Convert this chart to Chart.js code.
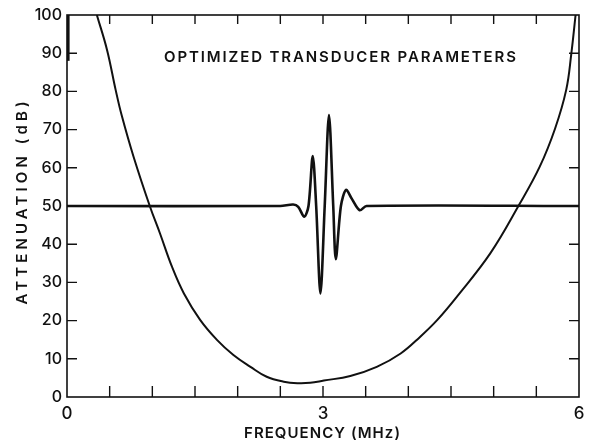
<!DOCTYPE html>
<html>
<head>
<meta charset="utf-8">
<script src="https://cdn.jsdelivr.net/npm/chart.js@4.4.0/dist/chart.umd.min.js"></script>
<style>
  body { margin: 0; background: #fff; }
  #wrap { width: 593px; height: 442px; }
</style>
</head>
<body>
<div id="wrap"><canvas id="chart1"></canvas></div>
<script>
// attenuation curve (MHz, dB)
const curveFreq = [0.35, 0.47, 0.57, 0.64, 0.78, 0.97, 1.09, 1.23, 1.37, 1.56, 1.76, 1.95, 2.15, 2.34, 2.54, 2.70, 2.85, 3.01, 3.32, 3.63, 3.91, 4.14, 4.34, 4.57, 4.96, 5.29, 5.54, 5.72, 5.85, 5.91, 5.96];
const curveDb   = [100, 90.8, 80.4, 73.8, 62.9, 50, 42.8, 34.1, 27.1, 20.2, 14.9, 11.0, 7.9, 5.3, 4.0, 3.6, 3.7, 4.3, 5.5, 7.9, 11.4, 15.8, 20.2, 26.3, 37.6, 50, 60.3, 70.3, 80.4, 89.9, 100];

// pulse drawn on the 50 dB baseline
const pulseFreq = [0, 2.50, 2.65, 2.71, 2.78, 2.83, 2.88, 2.92, 2.97, 3.02, 3.07, 3.12, 3.15, 3.21, 3.27, 3.34, 3.43, 3.51, 6];
const pulseDb   = [50, 50, 50.4, 49.8, 47.2, 50, 63.1, 50, 27.1, 50, 73.8, 50, 36.1, 50, 54.2, 51.8, 48.9, 50, 50];

// thick mark on the left axis near the top
const barFreq = [0.01, 0.01];
const barDb = [88, 100];

const xLabels = [0, 3, 6];
const titleText = "OPTIMIZED TRANSDUCER PARAMETERS";
const xTitle = "FREQUENCY (MHz)";
const yTitle = "ATTENUATION (dB)";

function toPoints(xs, ys) {
    let pts = [];
    for (let i = 0; i < xs.length; i++) pts.push({x: xs[i], y: ys[i]});
    return pts;
}

const FONT = "Inter, 'DejaVu Sans', sans-serif";

function spacedText(ctx, text, cx, cy, width) {
    ctx.letterSpacing = "0px";
    let w = ctx.measureText(text).width;
    let sp = (width - w) / (text.length - 1);
    ctx.letterSpacing = sp + "px";
    ctx.textAlign = "left";
    ctx.textBaseline = "middle";
    ctx.fillText(text, cx - width / 2, cy);
    ctx.letterSpacing = "0px";
}

const framePlugin = {
    id: 'frame',
    afterDatasetsDraw(chart) {
        const ctx = chart.ctx;
        const a = chart.chartArea;
        const xs = chart.scales.x, ys = chart.scales.y;
        ctx.save();
        ctx.strokeStyle = "#111";
        ctx.lineWidth = 1.6;
        ctx.strokeRect(a.left, a.top, a.right - a.left, a.bottom - a.top);
        ctx.lineWidth = 1.4;
        ctx.beginPath();
        for (let v = 0.5; v < 6; v += 0.5) {
            let px = xs.getPixelForValue(v);
            ctx.moveTo(px, a.bottom); ctx.lineTo(px, a.bottom - 11);
            ctx.moveTo(px, a.top); ctx.lineTo(px, a.top + 9);
        }
        for (let v = 10; v < 100; v += 10) {
            let py = ys.getPixelForValue(v);
            ctx.moveTo(a.left, py); ctx.lineTo(a.left + 10, py);
            ctx.moveTo(a.right, py); ctx.lineTo(a.right - 10, py);
        }
        ctx.stroke();

        ctx.fillStyle = "#111";
        ctx.font = "600 15px " + FONT;
        spacedText(ctx, titleText, 340, 57, 352);
        spacedText(ctx, xTitle, 322, 433, 156);
        ctx.translate(22, 203);
        ctx.rotate(-Math.PI / 2);
        spacedText(ctx, yTitle, 0, 0, 203);
        ctx.restore();
    }
};

const ctx1 = document.getElementById('chart1').getContext('2d');

const config = {
    type: 'scatter',
    data: {
        datasets: [
            {
                data: toPoints(pulseFreq, pulseDb),
                showLine: true,
                borderColor: "#111",
                borderWidth: 2.6,
                pointRadius: 0,
                tension: 0.3
            },
            {
                data: toPoints(curveFreq, curveDb),
                showLine: true,
                borderColor: "#111",
                borderWidth: 2,
                pointRadius: 0,
                tension: 0.4
            },
            {
                data: toPoints(barFreq, barDb),
                showLine: true,
                borderColor: "#111",
                borderWidth: 3.5,
                pointRadius: 0
            }
        ]
    },
    options: {
        responsive: true,
        maintainAspectRatio: false,
        animation: false,
        layout: { padding: { top: 15, right: 14, left: 0, bottom: 0 } },
        plugins: {
            legend: { display: false },
            tooltip: { enabled: false }
        },
        scales: {
            x: {
                type: 'linear',
                min: 0, max: 6,
                grid: { display: false, drawTicks: false },
                border: { display: false },
                afterFit: (s) => { s.height = 45; },
                ticks: {
                    stepSize: 0.5,
                    padding: 7,
                    color: "#111",
                    font: { family: FONT, size: 17, weight: '500' },
                    callback: (v) => xLabels.includes(v) ? String(v) : ''
                }
            },
            y: {
                min: 0, max: 100,
                grid: { display: false, drawTicks: false },
                border: { display: false },
                afterFit: (s) => { s.width = 67; },
                ticks: {
                    stepSize: 10,
                    padding: 5,
                    color: "#111",
                    font: { family: FONT, size: 16, weight: '500' }
                }
            }
        }
    },
    plugins: [framePlugin]
};

var myChart = new Chart(ctx1, config);
</script>
</body>
</html>
